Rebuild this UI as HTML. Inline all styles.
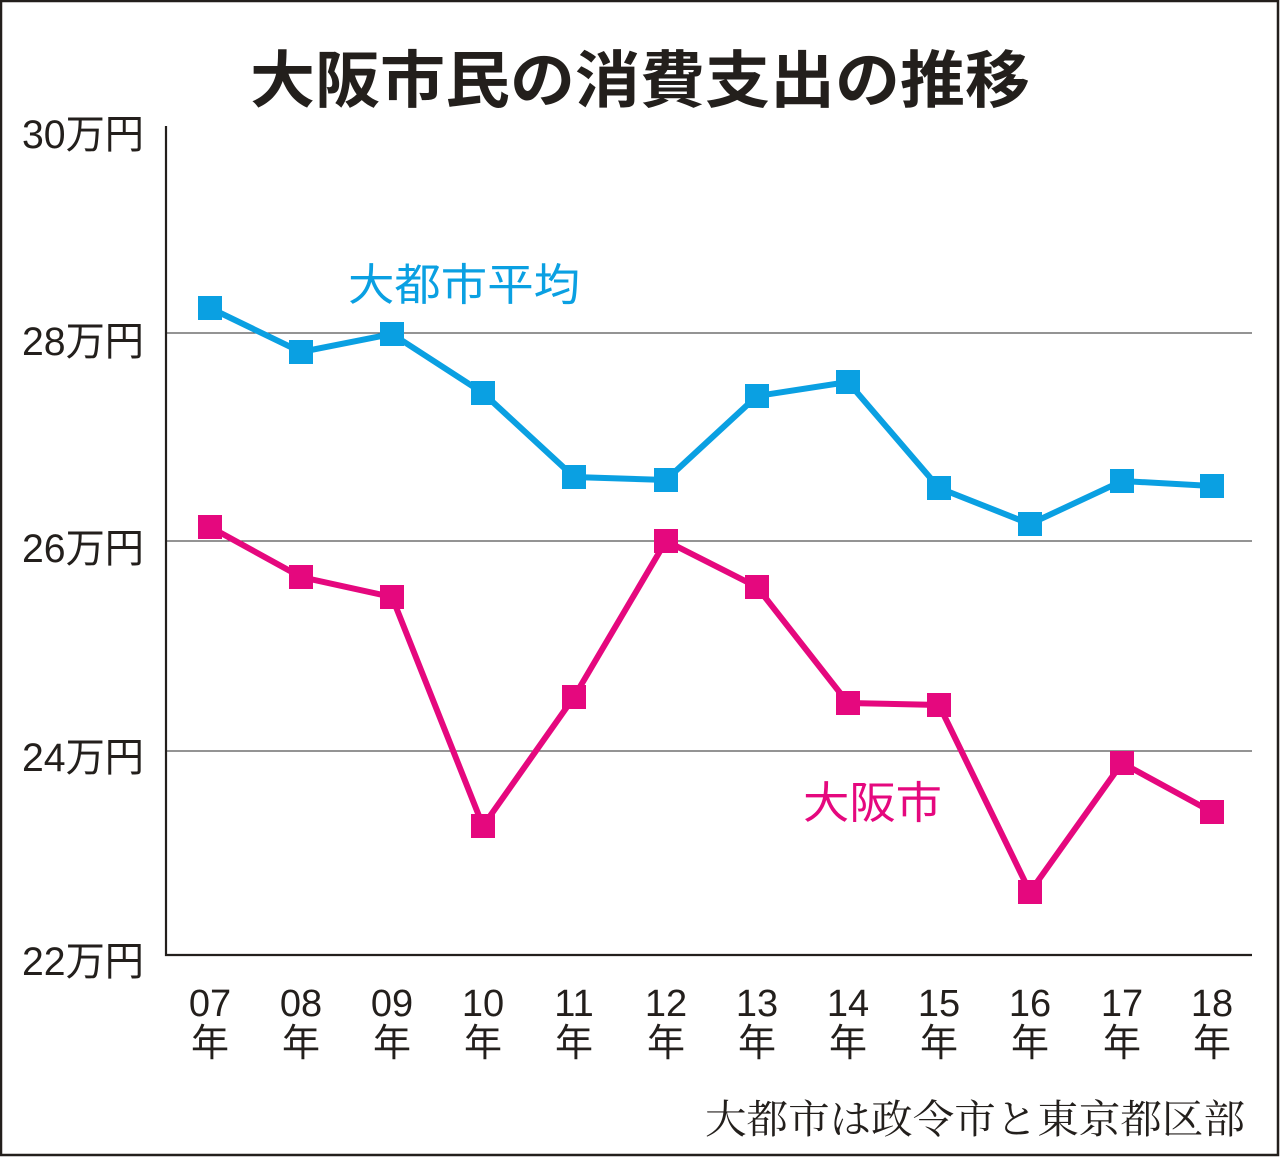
<!DOCTYPE html>
<html><head><meta charset="utf-8"><style>
html,body{margin:0;padding:0;background:#fff}
svg{display:block}
text{font-family:"Liberation Sans","Noto Sans CJK JP",sans-serif;fill:#231f1c}
</style></head><body>
<svg width="1280" height="1157" viewBox="0 0 1280 1157" xmlns="http://www.w3.org/2000/svg">
<rect x="1" y="1" width="1277" height="1154" fill="#fff" stroke="#231f1c" stroke-width="2.5"/>
<text x="250" y="102" font-size="62" font-weight="bold" textLength="780" lengthAdjust="spacingAndGlyphs" style="font-family:'Noto Sans CJK JP',sans-serif">大阪市民の消費支出の推移</text>
<g stroke="#555" stroke-width="1.2">
<line x1="166" y1="333" x2="1252" y2="333"/>
<line x1="166" y1="541" x2="1252" y2="541"/>
<line x1="166" y1="751" x2="1252" y2="751"/>
</g>
<g stroke="#231f1c" stroke-width="2.2" fill="none">
<polyline points="166,126 166,955 1252,955"/>
</g>
<g font-size="40">
<text x="22" y="148" textLength="122" lengthAdjust="spacingAndGlyphs">30万円</text>
<text x="22" y="355" textLength="122" lengthAdjust="spacingAndGlyphs">28万円</text>
<text x="22" y="562" textLength="122" lengthAdjust="spacingAndGlyphs">26万円</text>
<text x="22" y="771" textLength="122" lengthAdjust="spacingAndGlyphs">24万円</text>
<text x="22" y="975" textLength="122" lengthAdjust="spacingAndGlyphs">22万円</text>
</g>
<g font-size="38" text-anchor="middle">
<text x="210" y="1016">07</text><text x="210" y="1056">年</text>
<text x="301" y="1016">08</text><text x="301" y="1056">年</text>
<text x="392" y="1016">09</text><text x="392" y="1056">年</text>
<text x="483" y="1016">10</text><text x="483" y="1056">年</text>
<text x="574" y="1016">11</text><text x="574" y="1056">年</text>
<text x="666" y="1016">12</text><text x="666" y="1056">年</text>
<text x="757" y="1016">13</text><text x="757" y="1056">年</text>
<text x="848" y="1016">14</text><text x="848" y="1056">年</text>
<text x="939" y="1016">15</text><text x="939" y="1056">年</text>
<text x="1030" y="1016">16</text><text x="1030" y="1056">年</text>
<text x="1122" y="1016">17</text><text x="1122" y="1056">年</text>
<text x="1212" y="1016">18</text><text x="1212" y="1056">年</text>
</g>
<text x="705" y="1133" font-size="40" textLength="540" lengthAdjust="spacingAndGlyphs" style="font-family:'Noto Serif CJK SC',serif">大都市は政令市と東京都区部</text>
<polyline fill="none" stroke="#0aa0e2" stroke-width="6" points="210,308 301,352 392,334 483,393 574,477 666,480 757,396 848,382 939,488 1030,524 1122,481 1212,486"/>
<g fill="#0aa0e2">
<rect x="198" y="296" width="24" height="24"/><rect x="289" y="340" width="24" height="24"/><rect x="380" y="322" width="24" height="24"/><rect x="471" y="381" width="24" height="24"/><rect x="562" y="465" width="24" height="24"/><rect x="654" y="468" width="24" height="24"/><rect x="745" y="384" width="24" height="24"/><rect x="836" y="370" width="24" height="24"/><rect x="927" y="476" width="24" height="24"/><rect x="1018" y="512" width="24" height="24"/><rect x="1110" y="469" width="24" height="24"/><rect x="1200" y="474" width="24" height="24"/>
</g>
<polyline fill="none" stroke="#e5087e" stroke-width="6" points="210,527 301,577 392,597 483,826 574,697 666,541 757,587 848,703 939,705 1030,892 1122,763 1212,812"/>
<g fill="#e5087e">
<rect x="198" y="515" width="24" height="24"/><rect x="289" y="565" width="24" height="24"/><rect x="380" y="585" width="24" height="24"/><rect x="471" y="814" width="24" height="24"/><rect x="562" y="685" width="24" height="24"/><rect x="654" y="529" width="24" height="24"/><rect x="745" y="575" width="24" height="24"/><rect x="836" y="691" width="24" height="24"/><rect x="927" y="693" width="24" height="24"/><rect x="1018" y="880" width="24" height="24"/><rect x="1110" y="751" width="24" height="24"/><rect x="1200" y="800" width="24" height="24"/>
</g>
<text x="348" y="300" font-size="44" textLength="232" lengthAdjust="spacingAndGlyphs" style="fill:#0aa0e2">大都市平均</text>
<text x="803" y="818" font-size="44" textLength="139" lengthAdjust="spacingAndGlyphs" style="fill:#e5087e">大阪市</text>
</svg>
</body></html>
